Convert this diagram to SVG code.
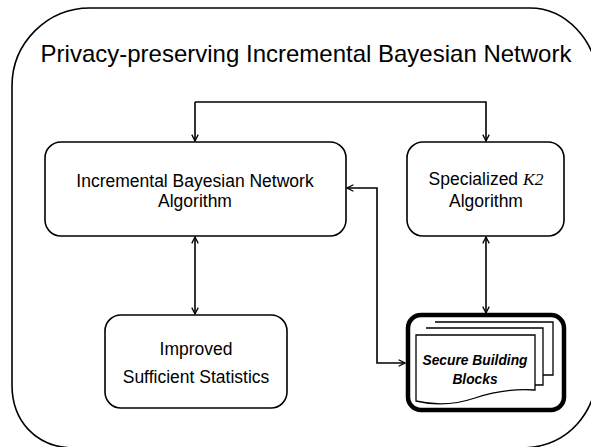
<svg xmlns="http://www.w3.org/2000/svg" width="591" height="447" viewBox="0 0 591 447">
<style>
.box{fill:#fff;stroke:#000;stroke-width:1.6}
.t{font-family:"Liberation Sans",Arial,sans-serif;font-size:17.5px;fill:#000;text-anchor:middle}
.c{fill:none;stroke:#000;stroke-width:1.6}
.pg{fill:#fff;stroke:#000;stroke-width:1.3}
.sb{font-family:"Liberation Sans",Arial,sans-serif;font-size:13.8px;font-weight:bold;font-style:italic;text-anchor:middle}
</style>
<defs>
<marker id="ah" viewBox="0 0 10 10" refX="9" refY="5" markerWidth="8" markerHeight="8" markerUnits="userSpaceOnUse" orient="auto-start-reverse">
<path d="M1,1 L9,5 L1,9" fill="none" stroke="#000" stroke-width="1.6"/>
</marker>
</defs>
<rect width="591" height="447" fill="#fff"/>
<g id="container">
<path d="M90,8 H530 C565,8 597,40 597,80 V370 C597,410 570,448 520,448 H75 C35,448 12,420 12,385 V86 C12,43 47,8 90,8 Z" fill="none" stroke="#000" stroke-width="1.6"/>
<text x="306" y="62" style="font-family:'Liberation Sans',Arial,sans-serif;font-size:24px;text-anchor:middle">Privacy-preserving Incremental Bayesian Network</text>
</g>
<g id="connectors">
<path class="c" d="M195,102 V141" marker-end="url(#ah)"/>
<path class="c" d="M195,102 H486 V141" marker-end="url(#ah)"/>
<path class="c" d="M195,237 V314" marker-start="url(#ah)" marker-end="url(#ah)"/>
<path class="c" d="M486,237 V313" marker-start="url(#ah)" marker-end="url(#ah)"/>
<path class="c" d="M347,188 H377 V363 H405" marker-start="url(#ah)" marker-end="url(#ah)"/>
</g>
<g id="ibn">
<rect class="box" x="45" y="142" width="301" height="94" rx="16"/>
<text class="t" x="195" y="187">Incremental Bayesian Network</text>
<text class="t" x="195" y="207">Algorithm</text>
</g>
<g id="k2">
<rect class="box" x="407" y="142" width="157" height="94" rx="16"/>
<text class="t" x="486" y="185">Specialized <tspan style="font-family:'Liberation Serif',serif;font-style:italic">K2</tspan></text>
<text class="t" x="486" y="207">Algorithm</text>
</g>
<g id="iss">
<rect class="box" x="105" y="315" width="182" height="93" rx="16"/>
<text class="t" x="196" y="355">Improved</text>
<text class="t" x="196" y="383">Sufficient Statistics</text>
</g>
<g id="sbb">
<rect x="408" y="315" width="156" height="95" rx="13" fill="#fff" stroke="#000" stroke-width="4.5"/>
<path class="pg" d="M435,322 H553 V375 H543"/>
<path class="pg" d="M426,328 H543 V385 H535"/>
<path class="pg" d="M416,335 H535 V390 Q505,388 475,398 Q445,408 416,401 Z"/>
<text class="sb" x="475" y="365">Secure Building</text>
<text class="sb" x="475" y="384">Blocks</text>
</g>
</svg>
